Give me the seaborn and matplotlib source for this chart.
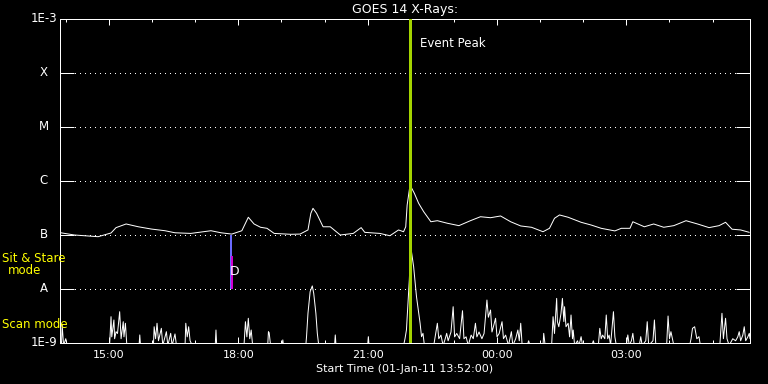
import numpy as np
import pandas as pd
import matplotlib
matplotlib.use("Agg")
import matplotlib.pyplot as plt
import matplotlib.dates as mdates
from matplotlib.transforms import blended_transform_factory
import seaborn as sns

# ---------------- data (minutes after start 2011-01-01 13:52) ----------------
start = pd.Timestamp("2011-01-01 13:52:00")

long_min = [0, 1, 20, 53, 71, 78, 92, 109, 127, 146, 160, 182, 210, 224, 239, 253,
            262, 270, 279, 288, 298, 321, 334, 345, 349, 352, 357, 366, 376, 390, 408,
            419, 424, 445, 459, 471, 478, 481, 483, 487, 493, 499, 506, 516, 525, 539,
            555, 571, 585, 599, 613, 627, 641, 656, 672, 681, 688, 695, 707, 725, 739,
            753, 772, 781, 793, 797, 813, 826, 840, 854, 871, 887, 903, 917, 926, 935,
            947, 959]
long_flux = [1.12e-7, 1.10e-7, 1.00e-7, 9.3e-8, 1.09e-7, 1.37e-7, 1.60e-7, 1.42e-7, 1.29e-7,
             1.20e-7, 1.10e-7, 1.07e-7, 1.20e-7, 1.10e-7, 1.04e-7, 1.20e-7,
             2.13e-7, 1.60e-7, 1.39e-7, 1.33e-7, 1.07e-7, 1.03e-7, 1.04e-7, 1.24e-7,
             2.52e-7, 3.12e-7, 2.52e-7, 1.42e-7, 1.42e-7, 1.00e-7, 1.07e-7,
             1.37e-7, 1.12e-7, 1.07e-7, 9.7e-8, 1.24e-7, 1.15e-7, 1.42e-7, 3.59e-7,
             8.43e-7, 5.92e-7, 3.86e-7, 2.70e-7, 1.76e-7, 1.84e-7, 1.65e-7,
             1.49e-7, 1.84e-7, 2.18e-7, 2.09e-7, 2.25e-7, 1.76e-7, 1.47e-7, 1.39e-7,
             1.15e-7, 1.33e-7, 2.04e-7, 2.35e-7, 2.13e-7, 1.72e-7, 1.53e-7,
             1.33e-7, 1.19e-7, 1.33e-7, 1.33e-7, 1.76e-7, 1.42e-7, 1.60e-7, 1.39e-7,
             1.49e-7, 1.84e-7, 1.60e-7, 1.37e-7, 1.49e-7, 1.72e-7, 1.28e-7,
             1.24e-7, 1.12e-7]

short_min = [0, 2, 3, 4, 5, 8, 10,
             69, 71, 72, 75, 76, 78, 80, 83, 85, 88, 89, 91, 93,
             110, 111, 112,
             130, 131, 133, 135, 137, 141, 143, 148, 150, 154, 156, 160, 162,
             174, 175, 177, 179, 181, 184,
             216, 217, 218,
             256, 258, 260, 262, 264, 266, 268,
             289, 290, 291, 293,
             309, 310, 311,
             342, 343, 345, 348, 351, 353, 356, 358, 360,
             382, 383, 384,
             428, 429, 430,
             478, 480, 482, 486, 488, 492, 496, 501, 503, 505, 507,
             520, 522, 525, 527, 530, 533, 536, 538, 540, 544, 547, 549, 552, 556, 560,
             562, 565, 568, 572, 575, 578, 580, 583, 587, 590, 594, 596, 599, 601, 603,
             606, 608, 611, 615, 617, 620, 624, 628, 630, 634, 637, 639, 641, 643,
             650, 652, 654,
             672, 673, 675,
             684, 686, 688, 691, 692, 694, 697, 699, 701, 702, 704, 707, 709, 711, 713,
             714, 716, 720, 722, 725, 727,
             740, 742, 744,
             749, 751, 753, 755, 758, 760, 762, 764, 766, 770, 772, 774,
             788, 790, 792, 795, 797, 799,
             806, 808, 810, 815, 817, 819, 825, 827, 829,
             844, 846, 848, 850, 852, 854,
             876, 878, 880, 883, 886, 889, 891,
             918, 921, 923, 926, 928, 931, 936, 940, 943, 945, 947, 950, 952, 954, 957,
             959, 960]
short_flux = [1.2e-9, 9e-10, 2.15e-9, 1.41e-9, 9e-10, 1.2e-9, 9e-10,
              9e-10, 3.07e-9, 1.3e-9, 2.67e-9, 1.2e-9, 1.62e-9, 1.5e-9, 3.8e-9, 1.2e-9,
              2.48e-9, 1.3e-9, 2.32e-9, 9e-10,
              9e-10, 1.41e-9, 9e-10,
              9e-10, 2.0e-9, 1.2e-9, 2.32e-9, 1.1e-9, 1.87e-9, 9e-10, 1.62e-9, 9e-10,
              1.51e-9, 9e-10, 1.47e-9, 9e-10,
              9e-10, 2.32e-9, 1.3e-9, 2.0e-9, 1.1e-9, 9e-10,
              9e-10, 1.74e-9, 9e-10,
              9e-10, 2.48e-9, 1.3e-9, 2.87e-9, 1.2e-9, 1.74e-9, 9e-10,
              9e-10, 1.62e-9, 1.55e-9, 9e-10,
              9e-10, 1.14e-9, 9e-10,
              9e-10, 1.31e-9, 3.55e-9, 8.9e-9, 1.14e-8, 8.3e-9, 3.55e-9, 1.51e-9, 9e-10,
              9e-10, 1.41e-9, 9e-10,
              9e-10, 1.31e-9, 9e-10,
              9e-10, 1.2e-9, 1.74e-9, 1.47e-8, 6.07e-8, 2.59e-8, 7.2e-9, 2.32e-9, 1.31e-9,
              1.51e-9, 9e-10,
              9e-10, 1.3e-9, 2.32e-9, 1.2e-9, 1.4e-9, 9e-10, 1.2e-9, 1.51e-9, 1.1e-9,
              1.6e-9, 4.7e-9, 1.3e-9, 1.5e-9, 1.2e-9, 3.96e-9,
              1.2e-9, 1.3e-9, 9e-10, 1.4e-9, 1.2e-9, 2.32e-9, 1.3e-9, 1.6e-9, 1.2e-9,
              1.5e-9, 6.25e-9, 3e-9, 4.08e-9, 1.6e-9, 2.0e-9,
              2.87e-9, 1.3e-9, 1.5e-9, 2.48e-9, 1.2e-9, 1.4e-9, 9e-10, 1.62e-9, 9e-10,
              1.2e-9, 1.74e-9, 1.1e-9, 2.32e-9, 9e-10,
              9e-10, 1.1e-9, 9e-10,
              9e-10, 1.51e-9, 9e-10,
              9e-10, 3.07e-9, 1.5e-9, 6.7e-9, 2.5e-9, 2.0e-9, 3.5e-9, 6.7e-9, 2.5e-9,
              4.7e-9, 2.0e-9, 2.32e-9, 1.3e-9, 3.3e-9, 1.2e-9,
              1.74e-9, 9e-10, 1.1e-9, 9e-10, 1.31e-9, 9e-10,
              9e-10, 1.1e-9, 9e-10,
              9e-10, 1.87e-9, 1.2e-9, 1.4e-9, 1.2e-9, 3.3e-9, 1.2e-9, 1.4e-9, 9e-10,
              3.8e-9, 1.3e-9, 9e-10,
              9e-10, 1.41e-9, 9e-10, 1.1e-9, 1.51e-9, 9e-10,
              9e-10, 1.31e-9, 9e-10, 1.1e-9, 2.48e-9, 9e-10, 1.1e-9, 2.67e-9, 9e-10,
              9e-10, 3.16e-9, 1.2e-9, 1.62e-9, 1.2e-9, 9e-10,
              9e-10, 1.2e-9, 1.87e-9, 2.0e-9, 1.2e-9, 1.31e-9, 9e-10,
              9e-10, 3.55e-9, 1.2e-9, 2.87e-9, 1.2e-9, 9e-10, 1.2e-9, 1.1e-9, 1.3e-9,
              1.62e-9, 1.1e-9, 1.4e-9, 2.0e-9, 1.1e-9, 1.3e-9,
              1.51e-9, 1.2e-9]

class_levels = [1e-9, 1e-8, 1e-7, 1e-6, 1e-5, 1e-4, 1e-3]
class_labels = ["1E-9", "A", "B", "C", "M", "X", "1E-3"]

event_peak_min = 487
sit_stare_min = 238      # blue marker
sit_stare_flux = [1e-8, 1e-7]
scan_min = 240           # magenta marker
scan_flux = [1e-8, 4.08e-8]
d_label_min = 243
d_label_flux = 2.1e-8

title = "GOES 14 X-Rays:"
xlabel = "Start Time (01-Jan-11 13:52:00)"

# ---------------- build ----------------
long_df = pd.DataFrame({"time": start + pd.to_timedelta(long_min, unit="min"),
                        "flux": long_flux})
short_df = pd.DataFrame({"time": start + pd.to_timedelta(short_min, unit="min"),
                         "flux": short_flux})

sns.set_theme(style="dark")
plt.rcParams["font.family"] = ["DejaVu Sans"]

W, H, DPI = 768, 384, 100
fig = plt.figure(figsize=(W / DPI, H / DPI), dpi=DPI, facecolor="black")
L, R, T, B = 60, 750, 19, 343
ax = fig.add_axes([L / W, 1 - B / H, (R - L) / W, (B - T) / H])
ax.set_facecolor("black")
PX = 72 / DPI  # one pixel in points

sns.lineplot(data=long_df, x="time", y="flux", ax=ax, color="white",
             linewidth=PX, estimator=None, sort=False)
sns.lineplot(data=short_df, x="time", y="flux", ax=ax, color="white",
             linewidth=PX, estimator=None, sort=False)

ax.set_yscale("log")
ax.set_ylim(1e-9, 1e-3)
ax.set_xlim(start, start + pd.Timedelta(minutes=960))

# dotted class lines
for lv in class_levels[1:-1]:
    ax.axhline(lv, color="white", linewidth=PX, linestyle=(0, (1, 5)), zorder=1,
               antialiased=False)

# event / mode markers
ev_t = start + pd.Timedelta(minutes=event_peak_min)
ax.axvline(ev_t, color="#a4d400", linewidth=3 * PX, zorder=5, antialiased=False)
ax.text(ev_t + pd.Timedelta(minutes=14), 3.5e-4, "Event Peak", color="white",
        fontsize=8.5, va="center", ha="left")
ax.vlines(start + pd.Timedelta(minutes=sit_stare_min), *sit_stare_flux,
          color="#6a6aff", linewidth=2 * PX, zorder=4, antialiased=False)
ax.vlines(start + pd.Timedelta(minutes=scan_min), *scan_flux,
          color="#d000d0", linewidth=2 * PX, zorder=4, antialiased=False)
ax.text(start + pd.Timedelta(minutes=d_label_min), d_label_flux, "D", color="white",
        fontsize=9, va="center", ha="center", zorder=6)

# axes styling
for sp in ax.spines.values():
    sp.set_color("white")
    sp.set_linewidth(PX)
    sp.set_visible(True)

ax.xaxis.set_major_locator(mdates.HourLocator(byhour=[0, 3, 6, 9, 12, 15, 18, 21]))
ax.xaxis.set_minor_locator(mdates.HourLocator())
ax.xaxis.set_major_formatter(mdates.DateFormatter("%H:%M"))
ax.tick_params(axis="x", which="major", direction="in", length=6 * PX, width=PX,
               color="white", labelcolor="white", labelsize=8, top=True, bottom=True,
               pad=5)
ax.tick_params(axis="x", which="minor", direction="in", length=3 * PX, width=PX,
               color="white", top=True, bottom=True)

ax.set_yticks(class_levels)
ax.yaxis.set_minor_locator(matplotlib.ticker.NullLocator())
ax.set_yticklabels([""] * len(class_levels))
ax.tick_params(axis="y", which="major", direction="in", length=14 * PX, width=PX,
               color="white", left=True, right=True, pad=0)

ytr = blended_transform_factory(ax.transAxes, ax.transData)
for lv, lab in zip(class_levels, class_labels):
    if len(lab) > 1:
        ax.text(-3 / (R - L), lv, lab, transform=ytr, ha="right", va="center",
                color="white", fontsize=8.5, clip_on=False)
    else:
        ax.text(-16 / (R - L), lv, lab, transform=ytr, ha="center", va="center",
                color="white", fontsize=8.5, clip_on=False)

ax.set_title(title, color="white", fontsize=9, pad=4)
ax.set_xlabel(xlabel, color="white", fontsize=8, labelpad=3)
ax.set_ylabel("")
ax.grid(False)

# yellow mode labels
fig.text(2 / W, 1 - 259 / H, "Sit & Stare", color="#ffff00", fontsize=8.5,
         ha="left", va="center")
fig.text(25 / W, 1 - 271 / H, "mode", color="#ffff00", fontsize=8.5,
         ha="center", va="center")
fig.text(2 / W, 1 - 325 / H, "Scan mode", color="#ffff00", fontsize=8.5,
         ha="left", va="center")

fig.savefig("out.png", dpi=DPI, facecolor="black")
